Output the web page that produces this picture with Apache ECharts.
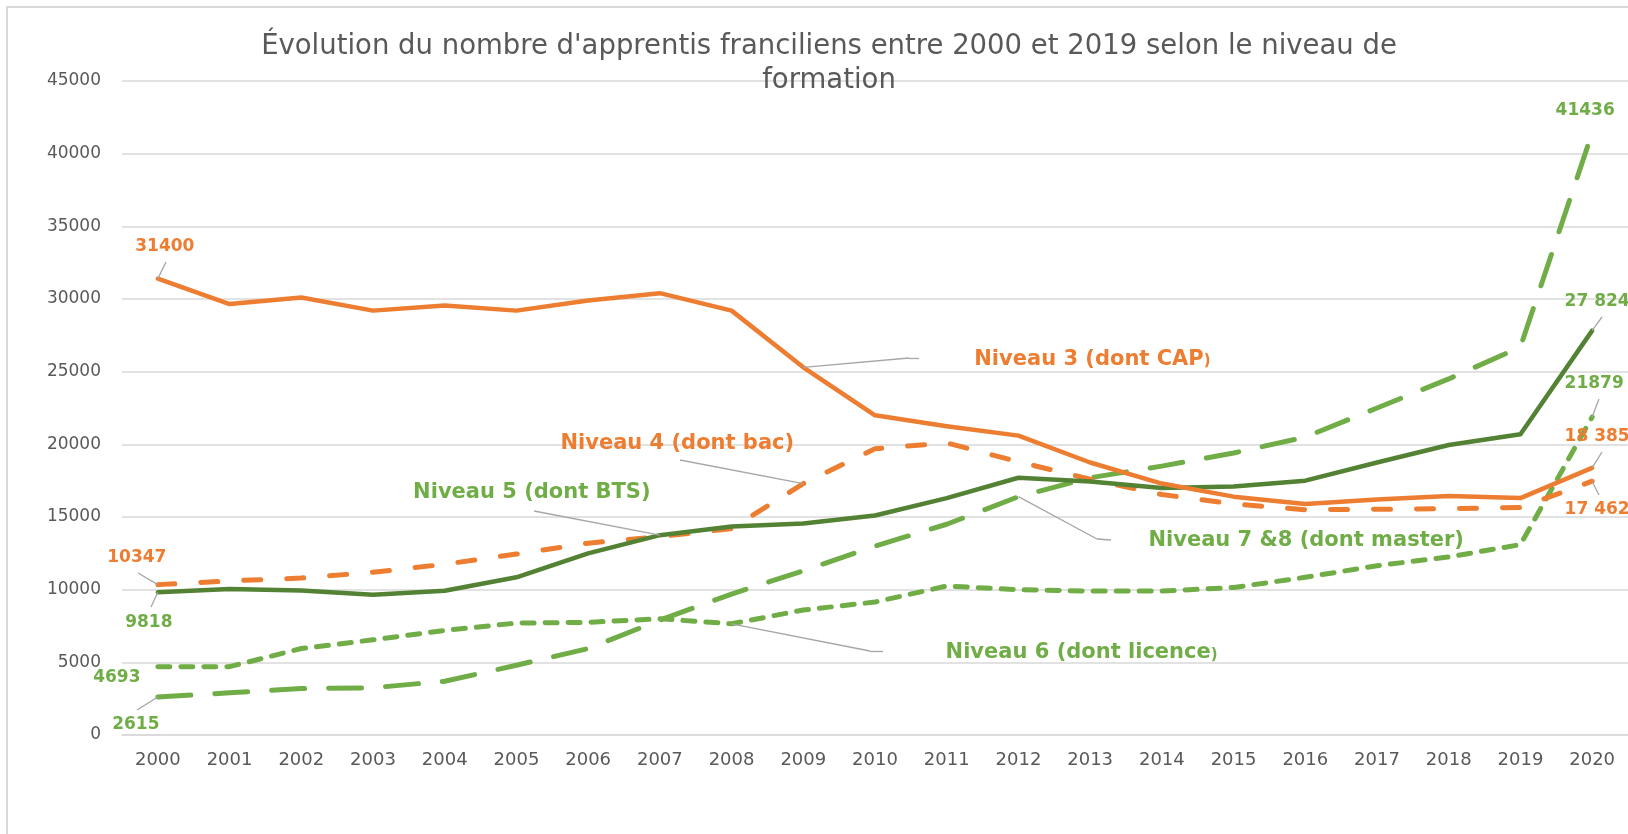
<!DOCTYPE html>
<html>
<head>
<meta charset="utf-8">
<script src="https://cdn.jsdelivr.net/npm/echarts@6/dist/echarts.min.js"></script>
<style>
  html, body { margin: 0; padding: 0; background: #fff; }
  #chart { width: 1628px; height: 834px; }
</style>
</head>
<body>
<div id="chart"></div>
<script>
var years = ['2000', '2001', '2002', '2003', '2004', '2005', '2006', '2007', '2008', '2009', '2010',
  '2011', '2012', '2013', '2014', '2015', '2016', '2017', '2018', '2019', '2020'];
var niveau3 = [31400, 29650, 30100, 29200, 29550, 29200, 29900, 30400, 29200, 25300, 22000,
  21250, 20600, 18750, 17300, 16400, 15900, 16200, 16450, 16300, 18385];
var niveau4 = [10347, 10600, 10800, 11200, 11750, 12450, 13200, 13650, 14200, 17300, 19700,
  20100, 18800, 17600, 16550, 15900, 15500, 15530, 15580, 15650, 17462];
var niveau5 = [9818, 10050, 9950, 9650, 9920, 10850, 12500, 13750, 14350, 14550, 15100,
  16300, 17700, 17450, 17000, 17100, 17500, 18750, 19950, 20700, 27824];
var niveau6 = [4693, 4700, 5950, 6550, 7200, 7700, 7750, 8000, 7650, 8600, 9150,
  10250, 10000, 9900, 9900, 10150, 10850, 11650, 12250, 13100, 21879];
var niveau78 = [2615, 2900, 3200, 3250, 3700, 4800, 5950, 7900, 9700, 11300, 13000,
  14500, 16400, 17700, 18500, 19400, 20500, 22500, 24500, 26700, 41436];
var seriesNames = ['Niveau 3 (dont CAP)', 'Niveau 4 (dont bac)', 'Niveau 5 (dont BTS)',
  'Niveau 6 (dont licence)', 'Niveau 7 &8 (dont master)'];
var yMin = 0, yMax = 45000, yStep = 5000;

var ORANGE = '#ED7D31', GREEN = '#70AD47', DARKGREEN = '#548235';
var FONT = 'DejaVu Sans';
var chart = echarts.init(document.getElementById('chart'));

function fmt(v, spaced) {
  var s = String(v);
  if (spaced && s.length > 3) s = s.slice(0, s.length - 3) + ' ' + s.slice(s.length - 3);
  return s;
}

// value labels at first and last point, offsets in px from the point
function withLabels(values, color, first, last, spaced) {
  return values.map(function (v, i) {
    var conf = i === 0 ? first : (i === values.length - 1 ? last : null);
    if (!conf) return v;
    return {
      value: v,
      label: {
        show: true, position: 'inside', offset: conf,
        formatter: fmt(v, i === values.length - 1 && spaced),
        color: color, fontFamily: FONT, fontWeight: 'bold', fontSize: 17
      }
    };
  });
}

function P(x, y) { return { x: x, y: y }; }
function C(i, arr) { return { coord: [years[i], arr[i]] }; }

function leaders(segs) {
  return {
    silent: true, symbol: ['none', 'none'], animation: false,
    label: { show: false },
    lineStyle: { color: '#A6A6A6', width: 1.3, type: 'solid' },
    emphasis: { disabled: true },
    data: segs
  };
}

function nameLabel(i, arr, text, color, offset, align) {
  return {
    silent: true, animation: false,
    data: [{
      coord: [years[i], arr[i]], symbol: 'circle', symbolSize: 0,
      label: {
        show: true, position: 'inside', offset: offset, align: align,
        formatter: text, color: color, fontFamily: FONT, fontWeight: 'bold', fontSize: 21,
        rich: { s: { fontSize: 15, color: color, fontFamily: FONT, fontWeight: 'bold', padding: [4, 0, 0, 0] } }
      }
    }]
  };
}

function lineSeries(name, values, color, width, dash) {
  return {
    name: name, type: 'line', data: values,
    symbol: 'circle', symbolSize: 0, showSymbol: true,
    itemStyle: { color: color },
    lineStyle: { color: color, width: width, type: dash || 'solid', cap: 'round', join: 'round' },
    emphasis: { disabled: true },
    animation: false
  };
}

var s3 = lineSeries(seriesNames[0], withLabels(niveau3, ORANGE, [7, -32], [5, -31], true), ORANGE, 4.5);
s3.markLine = leaders([
  [C(9, niveau3), P(909, 358)], [P(909, 358), P(919, 358)],
  [P(166, 262), C(0, niveau3)], [P(1602, 452), C(20, niveau3)]
]);
s3.markPoint = nameLabel(9, niveau3, 'Niveau 3 (dont CAP{s|)}', ORANGE, [171, -8], 'left');

var s4 = lineSeries(seriesNames[1], withLabels(niveau4, ORANGE, [-21, -27], [5, 28], true), ORANGE, 5, [17, 26]);
s4.markLine = leaders([
  [C(9, niveau4), P(680, 460)],
  [P(138, 573), C(0, niveau4)], [P(1599, 495), C(20, niveau4)]
]);
s4.markPoint = nameLabel(9, niveau4, seriesNames[1], ORANGE, [-126, -40], 'center');

var s5 = lineSeries(seriesNames[2], withLabels(niveau5, GREEN, [-9, 30], [5, -29], true), DARKGREEN, 4.5);
s5.markLine = leaders([
  [C(7, niveau5), P(534, 511)],
  [P(151, 607), C(0, niveau5)], [P(1602, 317), C(20, niveau5)]
]);
s5.markPoint = nameLabel(7, niveau5, seriesNames[2], GREEN, [-128, -43], 'center');

var s6 = lineSeries(seriesNames[3], withLabels(niveau6, GREEN, [-41, 11], [2, -33], false), GREEN, 5, [12, 11]);
s6.markLine = leaders([
  [C(8, niveau6), P(870, 651)], [P(870, 651), P(883, 651)],
  [P(1599, 399), C(20, niveau6)]
]);
s6.markPoint = nameLabel(8, niveau6, 'Niveau 6 (dont licence{s|)}', GREEN, [214, 29], 'left');

var s78 = lineSeries(seriesNames[4], withLabels(niveau78, GREEN, [-22, 28], [-7, -22], false), GREEN, 5, [33, 24]);
s78.markLine = leaders([
  [C(12, niveau78), P(1097, 539)], [P(1097, 539), P(1111, 540)],
  [P(137, 710), C(0, niveau78)]
]);
s78.markPoint = nameLabel(12, niveau78, seriesNames[4], GREEN, [130, 44], 'left');

var option = {
  backgroundColor: '#ffffff',
  animation: false,
  title: {
    text: "Évolution du nombre d'apprentis franciliens entre 2000 et 2019 selon le niveau de\nformation",
    left: 824, top: 25, textAlign: 'center',
    textStyle: { fontFamily: FONT, fontSize: 27.5, fontWeight: 'normal', color: '#595959', lineHeight: 34 }
  },
  grid: { left: 122, right: -5, top: 81, bottom: 99 },
  xAxis: {
    type: 'category', data: years, boundaryGap: true,
    axisLine: { show: true, lineStyle: { color: '#D9D9D9', width: 1.5 } },
    axisTick: { show: false },
    axisLabel: { color: '#595959', fontFamily: FONT, fontSize: 18, margin: 16, interval: 0 }
  },
  yAxis: {
    type: 'value', min: yMin, max: yMax, interval: yStep,
    axisLine: { show: false }, axisTick: { show: false },
    splitLine: { lineStyle: { color: '#D9D9D9', width: 1.5 } },
    axisLabel: {
      color: '#595959', fontFamily: FONT, fontSize: 17, margin: 21,
      formatter: function (v) { return String(v); }
    }
  },
  graphic: [{
    type: 'rect', silent: true, z: -1,
    shape: { x: 7, y: 7, width: 1700, height: 900 },
    style: { fill: 'none', stroke: '#D9D9D9', lineWidth: 2 }
  }],
  series: [s78, s6, s4, s5, s3]
};
chart.setOption(option);
</script>
</body>
</html>
